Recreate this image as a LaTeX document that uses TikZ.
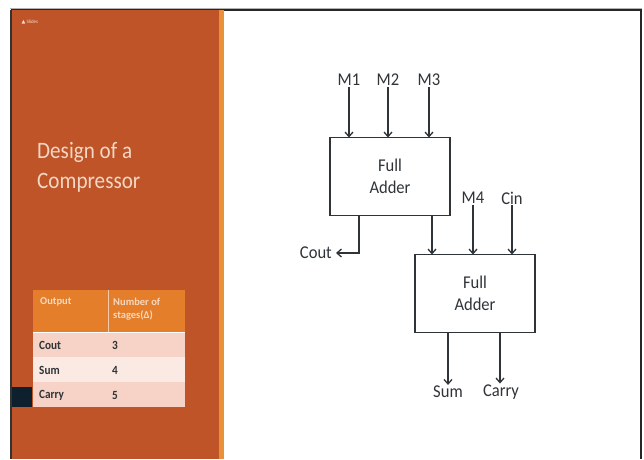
\documentclass[tikz,border=0pt]{standalone}
\usepackage{fontspec}
\setmainfont{Carlito}
\newfontfamily\symfont{DejaVu Sans}
\usetikzlibrary{arrows.meta}
\definecolor{slideor}{HTML}{BE5427}
\definecolor{slideedge}{HTML}{E8913A}
\definecolor{hdror}{HTML}{E47E2A}
\definecolor{rowA}{HTML}{F6D3C6}
\definecolor{rowB}{HTML}{FBE9E3}
\definecolor{titlec}{HTML}{F4D6C4}
\definecolor{ink}{HTML}{2F3438}
\definecolor{navy}{HTML}{0E1F2E}
\tikzset{
  fa/.style={draw=ink, line width=1.8pt, minimum width=120pt, minimum height=78pt, align=center, font=\fontsize{18}{22}\selectfont\addfontfeatures{FakeStretch=0.92}, text=ink, inner sep=0pt},
  sig/.style={font=\fontsize{18}{20}\selectfont\addfontfeatures{FakeStretch=0.92}, text=ink, inner sep=1pt},
  wire/.style={draw=ink, line width=1.3pt, -{Straight Barb[length=4.5pt,width=8pt]}},
  tcell/.style={font=\fontsize{12.5}{14}\selectfont\bfseries\addfontfeatures{FakeStretch=0.9}, anchor=west, inner sep=0pt, align=left},
}
\begin{document}
\begin{tikzpicture}[x=1pt,y=-1pt]
\useasboundingbox (0,0) rectangle (644,459);
\fill[white] (0,0) rectangle (644,459);
% frame
\draw[gray!60, line width=1pt] (10,8) -- (642,8);
\draw[black!85, line width=1.2pt] (11,10) -- (641,10) -- (641,459);
% orange slide panel
\fill[slideor] (11,10) rectangle (221,459);
\fill[slideedge] (219,10) rectangle (224,459);
\draw[black!80, line width=1.2pt] (11,10) -- (11,459);
\node[font=\fontsize{5}{6}\selectfont, text=titlec!80, anchor=west] (hdr) at (18,22) {{\symfont ▲} Slides};
\node[font=\fontsize{23.5}{30}\selectfont\addfontfeatures{FakeStretch=0.9}, text=titlec, anchor=north west, align=left, inner sep=0pt] (title) at (37,142) {Design of a\\Compressor};
% table
\fill[hdror] (33,290) rectangle (185,332);
\fill[rowA] (33,332) rectangle (185,357);
\fill[rowB] (33,357) rectangle (185,382);
\fill[rowA] (33,382) rectangle (185,407);
\draw[white!60!hdror, line width=0.6pt] (108,290) -- (108,332);
\draw[white, line width=0.8pt] (33,332) -- (185,332);
\node[tcell, text=white!70!hdror, font=\fontsize{10.5}{12}\selectfont\bfseries] (h1) at (40,302) {Output};
\node[tcell, text=white!70!hdror, font=\fontsize{10.5}{13}\selectfont\bfseries] (h2) at (113,309) {Number of\\stages(Δ)};
\node[tcell, text=ink] (c1) at (39,345) {Cout};
\node[tcell, text=ink] (c2) at (39,370) {Sum};
\node[tcell, text=ink] (c3) at (39,395) {Carry};
\node[tcell, text=ink] (v1) at (112,345) {3};
\node[tcell, text=ink] (v2) at (112,370) {4};
\node[tcell, text=ink] (v3) at (112,395) {5};
\fill[navy] (12,387) rectangle (32,407);
% diagram
\node[fa] (fa1) at (390,176.5) {Full\\Adder};
\node[fa] (fa2) at (475,293.5) {Full\\Adder};
\node[sig] (m1) at (349,80) {M1};
\node[sig] (m2) at (388,80) {M2};
\node[sig] (m3) at (429,80) {M3};
\node[sig] (m4) at (473,198) {M4};
\node[sig] (cin) at (512,198) {Cin};
\node[sig, anchor=east] (cout) at (333,253) {Cout};
\node[sig] (sum) at (448,392) {Sum};
\node[sig] (carry) at (501,392) {Carry};
\coordinate (coutc) at (cout.east);
\coordinate (carryin) at (500,384);
\foreach \n/\x in {m1/349, m2/388, m3/429}
  \draw[wire] (\n.south) -- (\x,137.5);
\foreach \n/\x in {m4/473, cin/512}
  \draw[wire] (\n.south) -- (\x,254.5);
\draw[wire] (432,215.5) -- (432,254.5);
\draw[wire] (359,215.5) |- ([xshift=3pt]coutc);
\draw[wire] (448,332.5) -- (sum.north);
\draw[wire] (500,332.5) -- (carry.north -| carryin);
\end{tikzpicture}
\end{document}
